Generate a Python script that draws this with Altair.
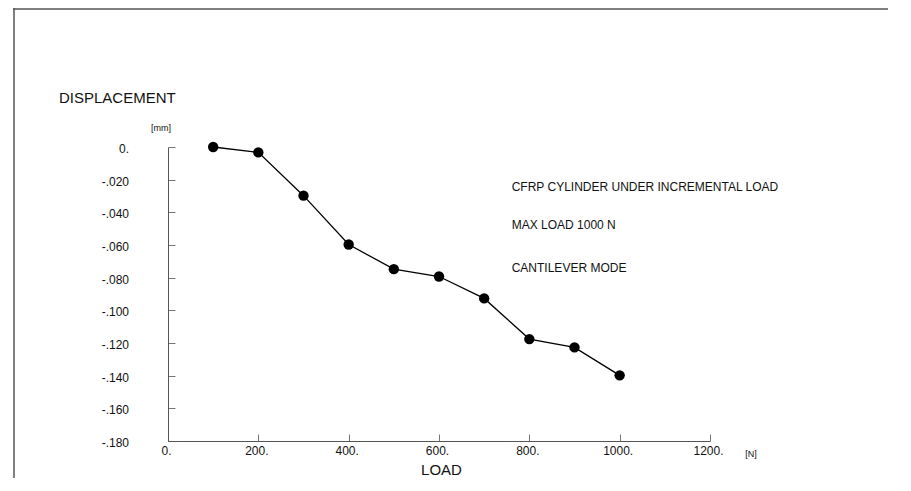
import altair as alt
import pandas as pd

load = [100, 200, 300, 400, 500, 600, 700, 800, 900, 1000]
displacement = [0.0, -0.0033, -0.0298, -0.0597, -0.0748, -0.0793, -0.0927, -0.1176, -0.1227, -0.1398]

x_ticks = [0, 200, 400, 600, 800, 1000, 1200]
y_ticks = [0, -0.02, -0.04, -0.06, -0.08, -0.10, -0.12, -0.14, -0.16, -0.18]

notes = ["CFRP CYLINDER UNDER INCREMENTAL LOAD", "MAX LOAD 1000 N", "CANTILEVER MODE"]

FONT = "Liberation Sans"
W, H = 542, 294
PAD = {"left": 160, "top": 139, "right": 178, "bottom": 37}
TICK = 7

df = pd.DataFrame({"load": load, "disp": displacement})
one = pd.DataFrame({"k": [0]})
frame_src = pd.DataFrame({"f": [1]})

xenc = alt.X(
    "load:Q",
    scale=alt.Scale(domain=[0, 1200], nice=False, zero=False),
    axis=alt.Axis(
        values=x_ticks,
        title="LOAD",
        titleFont=FONT, titleFontSize=15, titleFontWeight="normal", titleColor="#111",
        titleX=273, titleY=33.5, titleAlign="center", titleBaseline="alphabetic",
        labelExpr="format(datum.value, 'd') + '.'",
        labelFont=FONT, labelFontSize=12, labelColor="#111",
        labelBaseline="top", labelPadding=4, labelOffset=-2,
        labelFlush=False, labelOverlap=False,
        ticks=False, tickSize=0,
        domainColor="#555", domainWidth=1,
        grid=True, gridColor="#777", gridWidth=1, gridDash=[TICK, 2000],
        gridDashOffset=2000 + TICK - (H - TICK), gridOpacity=1,
    ),
)
yenc = alt.Y(
    "disp:Q",
    scale=alt.Scale(domain=[-0.18, 0], nice=False, zero=False),
    axis=alt.Axis(
        values=y_ticks,
        title="DISPLACEMENT",
        titleFont=FONT, titleFontSize=15, titleFontWeight="normal", titleColor="#111",
        titleAngle=0, titleX=-109.5, titleY=-44.7, titleAlign="left", titleBaseline="alphabetic",
        labelExpr="datum.value == 0 ? '0.' : '-.' + format(round(abs(datum.value) * 1000), '03d')",
        labelFont=FONT, labelFontSize=12, labelColor="#111",
        labelAlign="right", labelBaseline="middle", labelPadding=39.5, labelOffset=1.5,
        labelFlush=False, labelOverlap=False,
        ticks=False, tickSize=0,
        domainColor="#555", domainWidth=1,
        grid=True, gridColor="#777", gridWidth=1, gridDash=[TICK, 2000], gridOpacity=1,
    ),
)

base = alt.Chart(df).encode(x=xenc, y=yenc)
line = base.mark_line(color="black", strokeWidth=1.3)
pts = base.mark_circle(color="black", opacity=1, size=108)

def label(text, x, y, size, align="left", baseline="alphabetic"):
    return alt.Chart(one).mark_text(
        text=text, font=FONT, fontSize=size, color="#111", align=align, baseline=baseline
    ).encode(x=alt.value(x), y=alt.value(y))

ox, oy = 168, 147  # page position of plot origin
texts = [
    label(notes[0], 511.7 - ox, 190.7 - oy, 12),
    label(notes[1], 511.7 - ox, 229.0 - oy, 12),
    label(notes[2], 511.7 - ox, 271.7 - oy, 12),
    label("[mm]", 161 - ox, 128 - oy, 9, align="center", baseline="middle"),
    label("[N]", 751 - ox, 453.5 - oy, 9, align="center", baseline="middle"),
]

# page frame: top and left edges (top edge runs past the right border of the drawing)
frame_top = alt.Chart(frame_src).mark_rect(color="#555", opacity=1).encode(
    x=alt.value(-154.75), x2=alt.value(W + PAD["right"] + 100),
    y=alt.value(-PAD["top"] + 0.2), y2=alt.value(-PAD["top"] + 1.7),
)
frame_left = alt.Chart(one).mark_rect(color="#555", opacity=1).encode(
    x=alt.value(-154.75), x2=alt.value(-153.25),
    y=alt.value(-PAD["top"]), y2=alt.value(H + PAD["bottom"]),
)

chart = alt.layer(frame_left, frame_top, line, pts, *texts).properties(
    width=W, height=H,
    autosize=alt.AutoSizeParams(type="none"),
    padding=PAD,
    background="white",
).configure_view(stroke=None)

chart.save("out.html", embed_options={"renderer": "svg", "actions": False})
